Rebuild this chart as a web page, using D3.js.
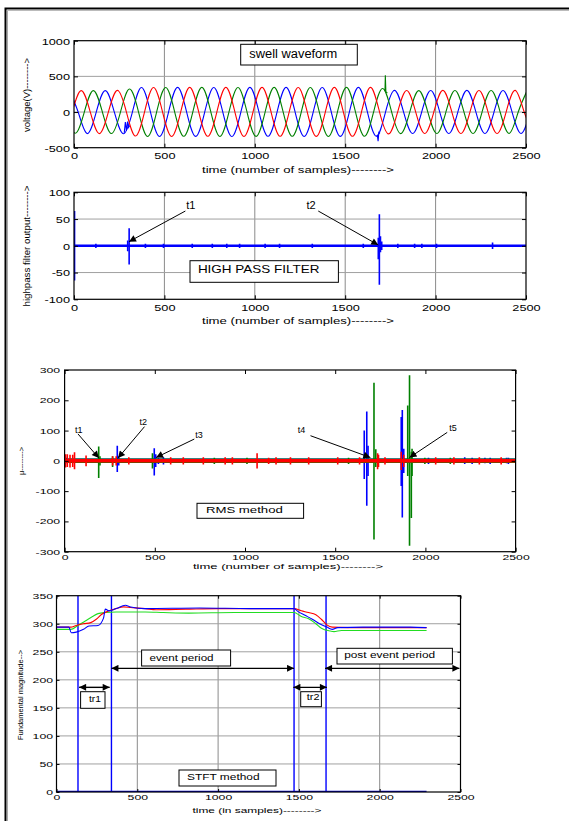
<!DOCTYPE html>
<html>
<head>
<meta charset="utf-8">
<script src="https://cdn.jsdelivr.net/npm/d3@7"></script>
<style>
  body { margin: 0; background: #fff; }
  svg text { font-family: "Liberation Sans", Arial, Helvetica, sans-serif; fill: #000; }
</style>
</head>
<body>
<script>
// ---------- data ----------
var sampleTicks = [0, 500, 1000, 1500, 2000, 2500];
var voltTicks = [-500, 0, 500, 1000];
var hpTicks = [-100, -50, 0, 50, 100];
var rmsTicks = [-300, -200, -100, 0, 100, 200, 300];
var magTicks = [0, 50, 100, 150, 200, 250, 300, 350];

// swell waveform: peaks and zero crossings of each phase (sample, volts)
var redT = [-10,40,90,140,190,240,290,340,390,440,490,540,590,640,690,740,790,840,890,940,990,1040,1090,1140,1190,1240,
            1290,1340,1390,1440,1490,1540,1590,1640,1690,1740,1790,1840,1890,1940,1990,2040,2090,2140,2190,2240,2290,2340,2390,2440,2490,2540];
var redV = [0,300,0,-302,0,304,0,-336,0,344,0,-342,0,346,0,-340,0,345,0,-342,0,346,0,-340,0,344,
            0,-341,0,345,0,-340,0,346,0,-306,0,302,0,-300,0,303,0,-300,0,302,0,-301,0,303,0,-300];
var blueT = [-27,23,73,123,173,223,273,323,373,423,473,523,573,623,673,723,773,823,873,923,973,1023,1073,1123,1173,1223,
             1273,1323,1373,1423,1473,1523,1573,1623,1673,1723,1773,1823,1873,1923,1973,2023,2073,2123,2173,2223,2273,2323,2373,2423,2473,2523];
var blueV = [300,0,-302,0,300,0,-304,0,344,0,-342,0,345,0,-341,0,344,0,-343,0,346,0,-340,0,345,0,
             -342,0,344,0,-341,0,345,0,-340,0,303,0,-301,0,302,0,-300,0,303,0,-301,0,302,0,-300,0];
var greenT = [-43,7,57,107,157,207,257,307,357,407,457,507,557,607,657,707,757,807,857,907,957,1007,1057,1107,1157,1207,
              1257,1307,1357,1407,1457,1507,1557,1607,1657,1707,1757,1807,1857,1907,1957,2007,2057,2107,2157,2207,2257,2307,2357,2407,2457,2507];
var greenV = [0,-298,0,300,0,-301,0,322,0,-342,0,344,0,-340,0,345,0,-342,0,344,0,-341,0,345,0,-340,
              0,344,0,-342,0,345,0,-340,0,330,0,-302,0,300,0,-301,0,302,0,-300,0,301,0,-300,0,302];
// transients on the swell waveform
var blueGlitch1T = [278, 284, 290, 296, 302, 308];
var blueGlitch1V = [-292, -140, -262, -135, -215, -190];
var blueGlitch2T = [1673, 1678, 1682, 1686, 1692];
var blueGlitch2V = [-340, -330, -410, -285, -300];
var greenGlitchT = [1716, 1720, 1722, 1725, 1733];
var greenGlitchV = [315, 300, 515, 285, 265];

// high pass filter output: [sample, min, max]
var hpSpikes = [[3,-65,65],[297,-10,10],[305,-35,33],[1683,-25,15],[1689,-73,59],[1695,-12,18],[1702,-8,8],
                [121,-4,4],[395,-4,4],[495,-4,4],[654,-4,4],[765,-4,4],[845,-4,4],[916,-4,4],[1057,-4,4],
                [1137,-4,4],[1318,-4,4],[1600,-4,4],[1791,-4,4],[1884,-4,4],[1924,-4,4],[2005,-4,4],[2315,-6,6]];

// RMS method deviations: [sample, min, max]
var rmsBlue = [[12,-8,10],[292,-37,50],[300,-15,15],[497,-48,42],[505,-20,22],[520,-10,10],[548,-12,12],[1661,-60,100],
               [1675,-148,163],[1682,-50,50],[1866,-83,145],[1872,-187,168],[1880,-40,40],[2017,-10,10],[2218,-10,12],
               [2259,-10,10],[2330,-8,10],[2359,-10,10],[2450,-8,10],[2460,-10,10]];
var rmsGreen = [[189,-57,47],[196,-15,15],[266,-20,15],[487,-25,25],[830,-10,10],[1011,-10,10],[1574,-10,10],
                [1715,-260,258],[1725,-20,38],[1902,-50,183],[1912,-280,283],[1922,-189,30],[1926,-50,40],
                [1997,-10,10],[2138,-10,10]];
var rmsRed = [[5,-22,22],[15,-20,22],[30,-22,20],[45,-20,20],[55,-28,28],[119,-18,18],[266,-15,15],[286,-15,15],
              [356,-12,12],[588,-12,12],[658,-12,12],[769,-12,12],[890,-12,12],[930,-12,12],[1067,-25,25],
              [1131,-10,10],[1172,-12,12],[1252,-12,12],[1353,-12,12],[1514,-12,12],[1635,-12,12],[1735,-28,25],
              [1740,-20,20],[1776,-12,12],[1866,-30,30],[1880,-20,20],[2057,-12,12],[2158,-12,12],[2299,-12,12],[2420,-12,12]];

// STFT fundamental magnitude
var stftRedT = [0,88,122,167,212,246,280,325,369,414,459,549,617,800,1000,1200,1470,1515,1560,1605,1639,1673,1706,1897,2290];
var stftRedV = [294,294,297,300,302,308,317,323,327,330,329,327,325,326,327,327,327,323,320,316,308,298,294,293,293];
var stftGreenT = [0,88,133,178,223,257,302,369,549,661,819,1100,1470,1515,1560,1605,1639,1695,1717,1763,2290];
var stftGreenV = [290,290,297,305,313,318,320,321,321,320,319,320,320,313,309,300,292,287,286,288,288];
var stftBlueT = [0,77,91,122,167,201,257,291,302,325,369,426,459,549,886,1200,1470,1493,1538,1583,1628,1673,1706,1740,1897,2190,2290];
var stftBlueV = [294,294,284,285,290,296,297,310,326,323,327,333,330,327,328,327,327,322,315,308,300,294,290,293,294,294,293];
var stftZeroT = [0, 2290];
var stftZeroV = [0, 0];
var eventMarks = [133, 340, 1470, 1668];

// ---------- drawing ----------
var svg = d3.select('body').append('svg').attr('width', 569).attr('height', 821);
var defs = svg.append('defs');
defs.append('marker').attr('id', 'ah')
    .attr('viewBox', '0 0 10 10').attr('refX', 10).attr('refY', 5)
    .attr('markerUnits', 'userSpaceOnUse').attr('markerWidth', 10).attr('markerHeight', 7)
    .attr('orient', 'auto-start-reverse')
  .append('path').attr('d', 'M0,0L10,5L0,10z').attr('fill', '#000');

svg.append('path').attr('d', 'M5.5,840V8.5H600')
    .attr('fill', 'none').attr('stroke', '#000').attr('stroke-width', 2);
svg.append('path').attr('d', 'M7.5,840V10.3H600')
    .attr('fill', 'none').attr('stroke', '#aaa').attr('stroke-width', 1);

var pts = function(T, V) { return T.map(function(t, i) { return [t, V[i]]; }); };
var plain = function(d) { return String(d); };
var clipN = 0;

function panel(p) {
  var P = {p: p};
  P.x = d3.scaleLinear().domain([0, 2500]).range([p.left, p.right]);
  P.y = d3.scaleLinear().domain([p.yticks[0], p.yticks[p.yticks.length - 1]]).range([p.bottom, p.top]);
  P.g = svg.append('g');
  if (p.grid) {
    P.g.selectAll('.gx').data(sampleTicks.slice(1, -1)).join('line')
        .attr('x1', P.x).attr('x2', P.x).attr('y1', p.top).attr('y2', p.bottom)
        .attr('stroke', '#8a8a8a').attr('stroke-width', 1);
    P.g.selectAll('.gy').data(p.yticks.slice(1, -1)).join('line')
        .attr('x1', p.left).attr('x2', p.right).attr('y1', P.y).attr('y2', P.y)
        .attr('stroke', '#a0a0a0').attr('stroke-width', 1);
  }
  var id = 'clip' + (clipN++);
  defs.append('clipPath').attr('id', id).append('rect')
      .attr('x', p.left).attr('y', p.top).attr('width', p.right - p.left).attr('height', p.bottom - p.top);
  P.data = svg.append('g').attr('clip-path', 'url(#' + id + ')');
  return P;
}

function axes(P) {
  var p = P.p;
  var sx = p.sx;
  var gb = svg.append('g').attr('transform', 'translate(0,' + p.bottom + ')')
      .call(d3.axisBottom(P.x).tickValues(sampleTicks).tickFormat(plain).tickSizeInner(-p.tick).tickSizeOuter(0).tickPadding(p.padX));
  var gt = svg.append('g').attr('transform', 'translate(0,' + p.top + ')')
      .call(d3.axisTop(P.x).tickValues(sampleTicks).tickSizeInner(-p.tick).tickSizeOuter(0).tickFormat(''));
  var gl = svg.append('g').attr('transform', 'translate(' + p.left + ',0)')
      .call(d3.axisLeft(P.y).tickValues(p.yticks).tickFormat(plain).tickSizeInner(-p.tick).tickSizeOuter(0).tickPadding(p.padY));
  var gr = svg.append('g').attr('transform', 'translate(' + p.right + ',0)')
      .call(d3.axisRight(P.y).tickValues(p.yticks).tickSizeInner(-p.tick).tickSizeOuter(0).tickFormat(''));
  [gb, gt, gl, gr].forEach(function(g) {
    g.attr('font-family', null).attr('font-size', p.fs);
    g.select('.domain').remove();
    g.selectAll('line').attr('stroke', '#000');
  });
  gb.selectAll('text').attr('transform', 'scale(' + sx + ',1)');
  gl.selectAll('text').attr('x', -p.padY / sx).attr('dy', '0.35em').attr('transform', 'scale(' + sx + ',1)');
  svg.append('rect').attr('x', p.left).attr('y', p.top)
      .attr('width', p.right - p.left).attr('height', p.bottom - p.top)
      .attr('fill', 'none').attr('stroke', '#000').attr('stroke-width', 1.2);
}

function ylabel(x, y, txt, fs, len) {
  var t = svg.append('text').attr('transform', 'translate(' + x + ',' + y + ') rotate(-90)')
      .attr('text-anchor', 'middle').attr('dy', '0.35em').attr('font-size', fs).text(txt);
  if (len) t.attr('textLength', len).attr('lengthAdjust', 'spacingAndGlyphs');
}
function xlabel(x, y, txt, fs, len) {
  svg.append('text').attr('x', x).attr('y', y).attr('text-anchor', 'middle').attr('dy', '0.35em')
      .attr('font-size', fs).attr('textLength', len).attr('lengthAdjust', 'spacingAndGlyphs').text(txt);
}
function box(x, y, w, h, tx, ty, txt, fs, len) {
  svg.append('rect').attr('x', x).attr('y', y).attr('width', w).attr('height', h)
      .attr('fill', '#fff').attr('stroke', '#000').attr('stroke-width', 1);
  svg.append('text').attr('x', tx).attr('y', ty).attr('font-size', fs)
      .attr('textLength', len).attr('lengthAdjust', 'spacingAndGlyphs').text(txt);
}
function arrow(P, a, b, dbl, w) {
  var l = svg.append('line')
      .attr('x1', P.x(a[0])).attr('y1', P.y(a[1])).attr('x2', P.x(b[0])).attr('y2', P.y(b[1]))
      .attr('stroke', '#000').attr('stroke-width', w || 1).attr('marker-end', 'url(#ah)');
  if (dbl) l.attr('marker-start', 'url(#ah)');
}
function spikes(P, data, color, w) {
  P.data.append('g').selectAll('line').data(data).join('line')
      .attr('x1', function(d) { return P.x(d[0]); }).attr('x2', function(d) { return P.x(d[0]); })
      .attr('y1', function(d) { return P.y(d[1]); }).attr('y2', function(d) { return P.y(d[2]); })
      .attr('stroke', color).attr('stroke-width', w);
}

// ----- panel 1: swell waveform -----
var P1 = panel({left: 74, right: 526, top: 40.7, bottom: 147.7, yticks: voltTicks, grid: true,
                tick: 4, padX: 4.5, padY: 4, fs: 9.5, sx: 1.34});
var wave = d3.line().x(function(d) { return P1.x(d[0]); }).y(function(d) { return P1.y(d[1]); }).curve(d3.curveNatural);
var seg = d3.line().x(function(d) { return P1.x(d[0]); }).y(function(d) { return P1.y(d[1]); });
[[blueT, blueV, '#0000ff'], [greenT, greenV, '#008000'], [redT, redV, '#ff0000']].forEach(function(s) {
  P1.data.append('path').attr('d', wave(pts(s[0], s[1]))).attr('fill', 'none').attr('stroke', s[2]).attr('stroke-width', 1.1);
});
P1.data.append('path').attr('d', seg(pts(blueGlitch1T, blueGlitch1V))).attr('fill', 'none').attr('stroke', '#0000ff').attr('stroke-width', 1.1);
P1.data.append('path').attr('d', seg(pts(blueGlitch2T, blueGlitch2V))).attr('fill', 'none').attr('stroke', '#0000ff').attr('stroke-width', 1.1);
P1.data.append('path').attr('d', seg(pts(greenGlitchT, greenGlitchV))).attr('fill', 'none').attr('stroke', '#008000').attr('stroke-width', 1.1);
axes(P1);
box(240.7, 44.3, 116.6, 20.7, 249.3, 58.3, 'swell waveform', 12, 88);
ylabel(27, 95, 'voltage(V)-------->', 9.5, 74);
xlabel(298, 170, 'time (number of samples)-------->', 9.5, 192);

// ----- panel 2: high pass filter -----
var P2 = panel({left: 74, right: 526, top: 192.3, bottom: 299.3, yticks: hpTicks, grid: true,
                tick: 4, padX: 5, padY: 4, fs: 9.5, sx: 1.34});
P2.data.append('line').attr('x1', P2.x(0)).attr('x2', P2.x(2500)).attr('y1', P2.y(0)).attr('y2', P2.y(0))
    .attr('stroke', '#0000ff').attr('stroke-width', 2.6);
spikes(P2, hpSpikes, '#0000ff', 1.6);
axes(P2);
box(190, 260.7, 148.4, 21.6, 197.9, 273.3, 'HIGH PASS FILTER', 10.2, 121.6);
svg.append('text').attr('x', P2.x(621)).attr('y', P2.y(69)).attr('font-size', 11).text('t1');
svg.append('text').attr('x', P2.x(1286)).attr('y', P2.y(69)).attr('font-size', 11).text('t2');
arrow(P2, [616, 65], [304, 7.7]);
arrow(P2, [1351, 65], [1683, 1.5]);
ylabel(27, 246, 'highpass filter output-------->', 9.5, 121);
xlabel(298, 321, 'time (number of samples)-------->', 9.5, 192);

// ----- panel 3: RMS method -----
var P3 = panel({left: 64.6, right: 515.6, top: 370, bottom: 551.7, yticks: rmsTicks, grid: false,
                tick: 4, padX: 3, padY: 4.5, fs: 7, sx: 1.75});
[[rmsBlue, '#0000ff'], [rmsGreen, '#008000'], [rmsRed, '#ff0000']].forEach(function(s) {
  P3.data.append('line').attr('x1', P3.x(0)).attr('x2', P3.x(2500)).attr('y1', P3.y(0)).attr('y2', P3.y(0))
      .attr('stroke', s[1]).attr('stroke-width', s[1] === '#ff0000' ? 3.5 : 4.5);
  spikes(P3, s[0], s[1], 1.6);
});
axes(P3);
box(197, 503.3, 106.6, 15, 205.9, 512.8, 'RMS method', 8.5, 77);
[['t1', 58, 93, [74, 89], [190, 9]], ['t2', 415, 117, [443, 113], [296, 9]], ['t3', 724, 77, [719, 72], [507, 11]],
 ['t4', 1292, 91, [1363, 83], [1695, 11]], ['t5', 2132, 100, [2121, 94], [1912, 11]]].forEach(function(a) {
  svg.append('text').attr('x', P3.x(a[1])).attr('y', P3.y(a[2])).attr('font-size', 9).text(a[0]);
  arrow(P3, a[3], a[4]);
});
ylabel(21, 461, 'μ-------->', 7.5, 28);
xlabel(288, 566.7, 'time (number of samples)-------->', 7.5, 190);

// ----- panel 4: STFT method -----
var P4 = panel({left: 56.5, right: 460.5, top: 595.7, bottom: 792, yticks: magTicks, grid: true,
                tick: 3, padX: 3, padY: 3.5, fs: 7, sx: 1.75});
var mag = d3.line().x(function(d) { return P4.x(d[0]); }).y(function(d) { return P4.y(d[1]); }).curve(d3.curveMonotoneX);
P4.data.selectAll('.ev').data(eventMarks).join('line')
    .attr('x1', P4.x).attr('x2', P4.x).attr('y1', P4.y(0)).attr('y2', P4.y(350))
    .attr('stroke', '#0000ff').attr('stroke-width', 1.4);
[[stftZeroT, stftZeroV, '#0000cc', 2.5], [stftGreenT, stftGreenV, '#22dd22', 1.1],
 [stftRedT, stftRedV, '#ff0000', 1.1], [stftBlueT, stftBlueV, '#0000ff', 1.1]].forEach(function(s) {
  P4.data.append('path').attr('d', mag(pts(s[0], s[1]))).attr('fill', 'none').attr('stroke', s[2]).attr('stroke-width', s[3]);
});
axes(P4);
arrow(P4, [340, 220.5], [1470, 220.5], true, 1.4);
arrow(P4, [1662, 220.5], [2493, 220.5], true, 1.4);
arrow(P4, [140, 186.6], [329, 186.6], true, 1.4);
arrow(P4, [1466, 186.6], [1673, 186.6], true, 1.4);
box(141.6, 650, 89, 16, 149.6, 661, 'event period', 8.5, 64);
box(337, 648.3, 115.4, 15.7, 344.2, 658.3, 'post event period', 8.5, 91);
box(80.6, 691.7, 24.4, 16.6, 89, 701.7, 'tr1', 8.5, 12);
box(300.7, 691.7, 20.7, 15, 306.8, 700, 'tr2', 8.5, 12.7);
box(179, 770, 97, 16, 187, 780, 'STFT method', 8.5, 72.6);
ylabel(20, 695, 'Fundamental magnitude-->', 7.5, 90);
xlabel(257, 810, 'time (in samples)-------->', 7.5, 129);
</script>
</body>
</html>
